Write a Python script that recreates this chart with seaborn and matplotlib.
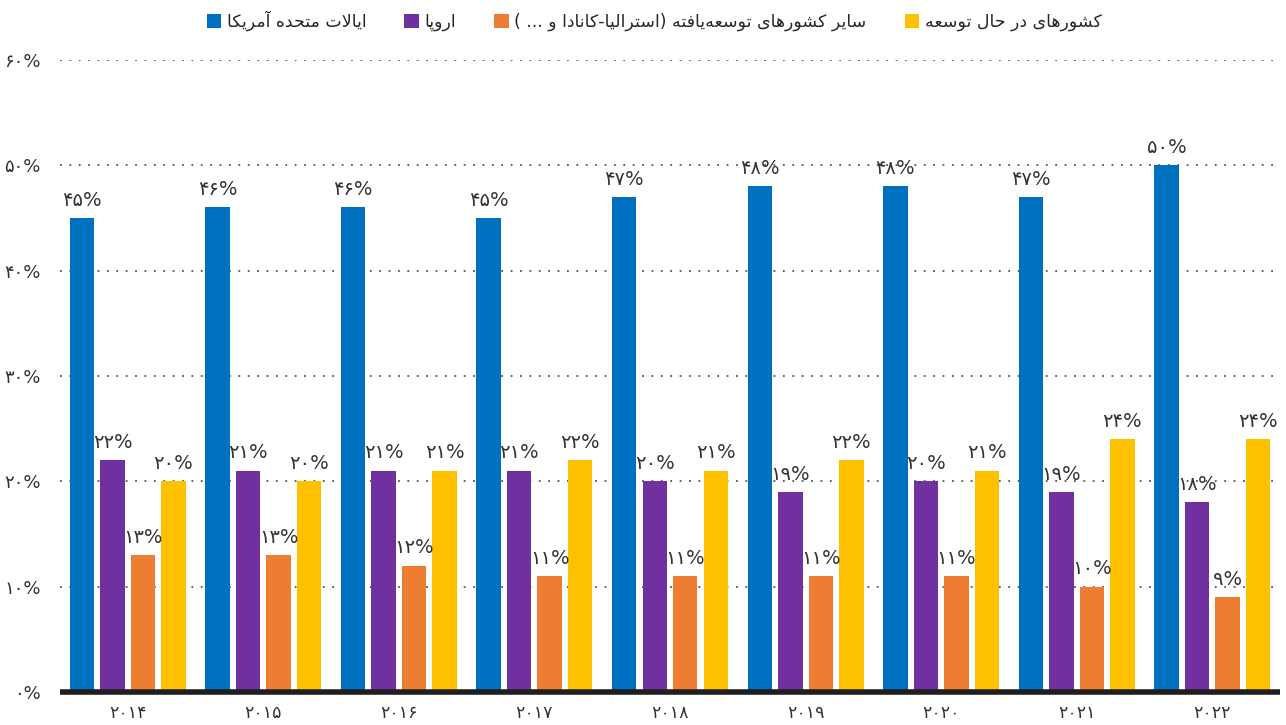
import matplotlib
matplotlib.use("Agg")
import matplotlib.pyplot as plt
import seaborn as sns
import pandas as pd
import numpy as np

# ---------------- data ----------------
years = [2014, 2015, 2016, 2017, 2018, 2019, 2020, 2021, 2022]
series_names = [
    "ایالات متحده آمریکا",
    "اروپا",
    "سایر کشورهای توسعه\u200cیافته (استرالیا-کانادا و ... )",
    "کشورهای در حال توسعه",
]
usa = [45, 46, 46, 45, 47, 48, 48, 47, 50]
europe = [22, 21, 21, 21, 20, 19, 20, 19, 18]
other_developed = [13, 13, 12, 11, 11, 11, 11, 10, 9]
developing = [20, 20, 21, 22, 21, 22, 21, 24, 24]
y_ticks = [0, 10, 20, 30, 40, 50, 60]
colors = ["#0070C0", "#7030A0", "#ED7D31", "#FFC000"]

# ---------------- Persian helpers ----------------
FA_DIGITS = str.maketrans("0123456789", "۰۱۲۳۴۵۶۷۸۹")


def fa(s):
    return str(s).translate(FA_DIGITS)


FORMS = {
    "ا": ("\uFE8D", "\uFE8E", None, None),
    "آ": ("\uFE81", "\uFE82", None, None),
    "د": ("\uFEA9", "\uFEAA", None, None),
    "ر": ("\uFEAD", "\uFEAE", None, None),
    "و": ("\uFEED", "\uFEEE", None, None),
    "ی": ("\uFBFC", "\uFBFD", "\uFBFE", "\uFBFF"),
    "ل": ("\uFEDD", "\uFEDE", "\uFEDF", "\uFEE0"),
    "ت": ("\uFE95", "\uFE96", "\uFE97", "\uFE98"),
    "م": ("\uFEE1", "\uFEE2", "\uFEE3", "\uFEE4"),
    "ح": ("\uFEA1", "\uFEA2", "\uFEA3", "\uFEA4"),
    "ه": ("\uFEE9", "\uFEEA", "\uFEEB", "\uFEEC"),
    "ک": ("\uFB8E", "\uFB8F", "\uFB90", "\uFB91"),
    "پ": ("\uFB56", "\uFB57", "\uFB58", "\uFB59"),
    "س": ("\uFEB1", "\uFEB2", "\uFEB3", "\uFEB4"),
    "ش": ("\uFEB5", "\uFEB6", "\uFEB7", "\uFEB8"),
    "ع": ("\uFEC9", "\uFECA", "\uFECB", "\uFECC"),
    "ف": ("\uFED1", "\uFED2", "\uFED3", "\uFED4"),
    "ن": ("\uFEE5", "\uFEE6", "\uFEE7", "\uFEE8"),
}
RIGHT_ONLY = set("اآدذرزژو")
LAM_ALEF = {"ا": ("\uFEFB", "\uFEFC"), "آ": ("\uFEF5", "\uFEF6")}
MIRROR = {"(": ")", ")": "("}


def shape(text):
    chars = list(text)
    n = len(chars)
    out = []
    i = 0
    while i < n:
        c = chars[i]
        prev = chars[i - 1] if i > 0 else None
        nxt = chars[i + 1] if i + 1 < n else None
        if c not in FORMS:
            if c != "\u200c":
                out.append(MIRROR.get(c, c))
            i += 1
            continue
        prev_join = prev in FORMS and prev not in RIGHT_ONLY
        if c == "ل" and nxt in LAM_ALEF:
            out.append(LAM_ALEF[nxt][1 if prev_join else 0])
            i += 2
            continue
        next_join = nxt in FORMS
        iso, fin, ini, med = FORMS[c]
        if c in RIGHT_ONLY:
            out.append(fin if prev_join else iso)
        else:
            if prev_join and next_join:
                out.append(med)
            elif prev_join:
                out.append(fin)
            elif next_join:
                out.append(ini)
            else:
                out.append(iso)
        i += 1
    return "".join(reversed(out))


# ---------------- dataframe ----------------
values = [usa, europe, other_developed, developing]
rows = []
for name, vals in zip(series_names, values):
    for y, v in zip(years, vals):
        rows.append({"year": fa(y), "series": name, "value": v / 100.0})
df = pd.DataFrame(rows)

# ---------------- plot ----------------
sns.set_theme(style="white")
plt.rcParams["font.family"] = ["DejaVu Sans"]

fig = plt.figure(figsize=(12.86, 7.25), dpi=100)
ax = fig.add_axes([60 / 1286, 1 - 692 / 725, 1220 / 1286, 632 / 725])

sns.barplot(
    data=df, x="year", y="value", hue="series", hue_order=series_names,
    palette=colors, saturation=1, width=0.9, gap=0.2, linewidth=0, ax=ax,
    zorder=3, errorbar=None,
)

ax.set_ylim(0, 0.6)
ax.set_xlim(-0.5, 8.5)
ax.set_yticks([t / 100 for t in y_ticks])
ax.set_yticklabels([fa(t) + "%" for t in y_ticks], fontsize=13, color="#333333")
ax.tick_params(axis="x", labelsize=12.5, labelcolor="#333333", length=0, pad=9)
ax.tick_params(axis="y", length=0, pad=14)
ax.set_xlabel("")
ax.set_ylabel("")
for s in ax.spines.values():
    s.set_visible(False)

ax.yaxis.grid(True, linestyle=(0, (1, 4.2)), color="#555555", linewidth=1.3, zorder=0)
ax.set_axisbelow(True)
ax.axhline(0, color="#1f1f1f", linewidth=4, zorder=5, clip_on=False,
           solid_capstyle="butt")

for cont, vals in zip(ax.containers, values):
    ax.bar_label(cont, labels=[fa(v) + "%" for v in vals], padding=6,
                 fontsize=14, color="#333333")

handles, labels = ax.get_legend_handles_labels()
if ax.get_legend() is not None:
    ax.get_legend().remove()
fig.legend(handles, [shape(l) for l in labels], loc="center",
           bbox_to_anchor=(654 / 1286, 1 - 21 / 725), ncol=4, frameon=False,
           fontsize=12.5, handlelength=0.85, handleheight=0.85,
           handletextpad=0.3, columnspacing=2.2)

fig.savefig("out.png", dpi=100)
